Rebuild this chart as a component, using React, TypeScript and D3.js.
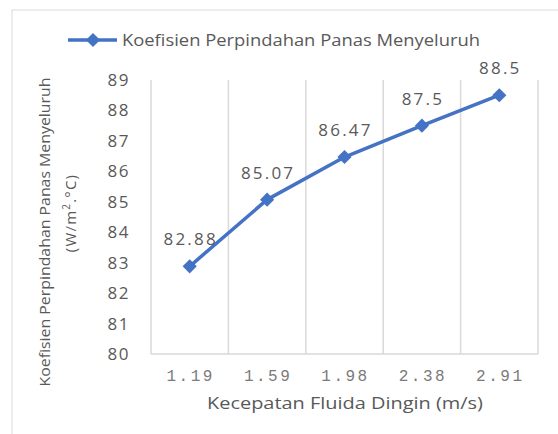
import React from "react";
import * as d3 from "d3";

// Cold-fluid velocity categories (m/s) and overall heat transfer coefficient
const categories: string[] = ["1.19", "1.59", "1.98", "2.38", "2.91"];
const values: number[] = [82.88, 85.07, 86.47, 87.5, 88.5];
const valueLabels: string[] = ["82.88", "85.07", "86.47", "87.5", "88.5"];
const yTicks: number[] = [80, 81, 82, 83, 84, 85, 86, 87, 88, 89];

const seriesName = "Koefisien Perpindahan Panas Menyeluruh";
const xTitle = "Kecepatan Fluida Dingin (m/s)";
const yTitle1 = "Koefisien Perpindahan Panas Menyeluruh";

const W = 558;
const H = 434;
const plot = { left: 151, right: 538, top: 80, bottom: 354 };
const BLUE = "#4472C4";
const GRID = "#d9d9d9";
const TEXT = "#595959";
const FONT = "'Open Sans', 'Noto Sans', sans-serif";

export default function App() {
  const x = d3
    .scaleBand<string>()
    .domain(categories)
    .range([plot.left, plot.right])
    .padding(0);
  const y = d3.scaleLinear().domain([80, 89]).range([plot.bottom, plot.top]);

  const cx = (c: string) => (x(c) ?? 0) + x.bandwidth() / 2;
  const line = d3
    .line<number>()
    .x((_, i) => cx(categories[i]))
    .y((v) => y(v));
  const diamond = d3.symbol(d3.symbolSquare, 100)() ?? "";

  return (
    <svg
      width={W}
      height={H}
      style={{ position: "absolute", left: 0, top: 0, background: "#fff" }}
    >
      {/* chart frame */}
      <rect x={12} y={10} width={W} height={H} fill="#fff" stroke={GRID} strokeWidth={1} />

      {/* legend */}
      <g>
        <line x1={68} x2={117} y1={40} y2={40} stroke={BLUE} strokeWidth={3.5} />
        <path d={diamond} transform="translate(93,40) rotate(45)" fill={BLUE} />
        <text
          x={122}
          y={46}
          fontFamily={FONT}
          fontSize={17}
          fill={TEXT}
          textLength={358}
          lengthAdjust="spacingAndGlyphs"
        >
          {seriesName}
        </text>
      </g>

      {/* vertical gridlines at category boundaries */}
      {categories.map((c) => {
        const gx = (x(c) ?? 0) + x.bandwidth();
        return (
          <line key={c} x1={gx} x2={gx} y1={plot.top} y2={plot.bottom} stroke={GRID} strokeWidth={1.5} />
        );
      })}
      {/* value axis line and category axis line */}
      <line x1={plot.left} x2={plot.left} y1={plot.top} y2={plot.bottom} stroke={GRID} strokeWidth={1.5} />
      <line x1={plot.left} x2={plot.right} y1={plot.bottom} y2={plot.bottom} stroke={GRID} strokeWidth={1.5} />

      {/* y tick labels */}
      {yTicks.map((t) => (
        <text
          key={t}
          x={130}
          y={y(t)}
          dy="0.35em"
          textAnchor="end"
          fontFamily={FONT}
          fontSize={17}
          letterSpacing={1.5}
          fill={TEXT}
        >
          {t}
        </text>
      ))}

      {/* x tick labels */}
      {categories.map((c) => (
        <text
          key={c}
          x={cx(c) + 1}
          y={381}
          textAnchor="middle"
          fontFamily="'Liberation Mono', 'DejaVu Sans Mono', monospace"
          fontSize={16}
          letterSpacing={2.5}
          fill="#7a7a7a"
        >
          {c}
        </text>
      ))}

      {/* axis titles */}
      <text
        x={345}
        y={409}
        textAnchor="middle"
        fontFamily={FONT}
        fontSize={17}
        fill={TEXT}
        textLength={276}
        lengthAdjust="spacingAndGlyphs"
      >
        {xTitle}
      </text>
      <text
        transform="translate(50,232) rotate(-90)"
        textAnchor="middle"
        fontFamily={FONT}
        fontSize={15}
        fill={TEXT}
        textLength={309}
        lengthAdjust="spacingAndGlyphs"
      >
        {yTitle1}
      </text>
      <text
        transform="translate(76,213) rotate(-90)"
        textAnchor="middle"
        fontFamily={FONT}
        fontSize={15}
        letterSpacing={1.2}
        fill={TEXT}
      >
        (W/m
        <tspan fontSize={10} dy={-6}>2</tspan>
        <tspan dy={6}>.°C)</tspan>
      </text>

      {/* series line with diamond markers */}
      <path d={line(values) ?? ""} fill="none" stroke={BLUE} strokeWidth={3.5} strokeLinejoin="round" />
      {values.map((v, i) => (
        <path
          key={i}
          d={diamond}
          transform={`translate(${cx(categories[i])},${y(v)}) rotate(45)`}
          fill={BLUE}
        />
      ))}

      {/* data labels */}
      {values.map((v, i) => (
        <text
          key={i}
          x={cx(categories[i]) + 1}
          y={y(v) - 21}
          textAnchor="middle"
          fontFamily={FONT}
          fontSize={17}
          letterSpacing={2.2}
          fill={TEXT}
        >
          {valueLabels[i]}
        </text>
      ))}
    </svg>
  );
}
